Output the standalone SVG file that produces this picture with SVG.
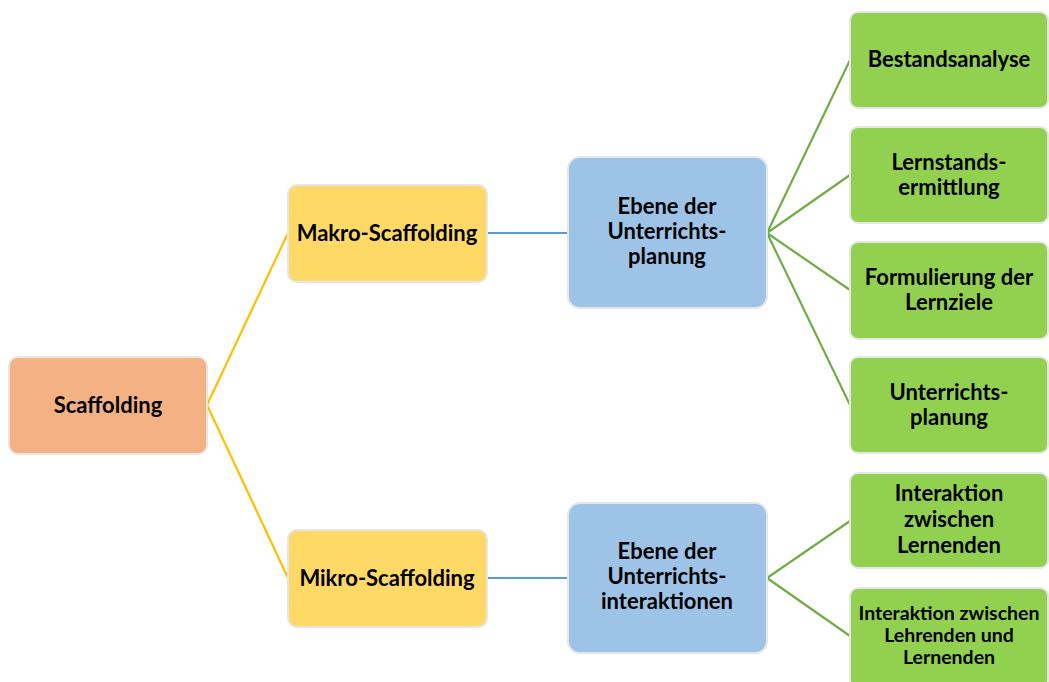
<svg xmlns="http://www.w3.org/2000/svg" width="1049" height="682" viewBox="0 0 1049 682">
<style>
.n{stroke:#e6e6e6;stroke-width:2}
.o{fill:#F4B183}.y{fill:#FFD966}.b{fill:#9DC3E6}.g{fill:#92D050}
text{font-family:Lato,"Open Sans","Liberation Sans",sans-serif;font-weight:bold;font-size:22px;fill:#000;text-anchor:middle}
.s{font-size:19.5px}
.cy{stroke:#FFC000;stroke-width:2.2;fill:none}
.cb{stroke:#5B9BD5;stroke-width:2.2;fill:none}
.cg{stroke:#70AD47;stroke-width:2.2;fill:none}
</style>
<rect width="1049" height="682" fill="#fff"/>
<g id="connectors">
<polyline class="cy" points="288,233 207,405 288,578"/>
<line class="cb" x1="487" y1="233" x2="568" y2="233"/>
<line class="cb" x1="487" y1="578" x2="568" y2="578"/>
<path class="cg" d="M767,233 L850,60 M767,233 L850,175 M767,233 L850,290 M767,233 L850,405"/>
<path class="cg" d="M767,578 L850,521 M767,578 L850,636"/>
</g>
<g id="scaffolding"><rect class="n o" x="9" y="357" width="198" height="97" rx="9"/><text x="108" y="413">Scaffolding</text></g>
<g id="makro"><rect class="n y" x="288" y="185" width="199" height="97" rx="9"/><text x="387" y="241">Makro-Scaffolding</text></g>
<g id="mikro"><rect class="n y" x="288" y="530" width="199" height="97" rx="9"/><text x="387" y="586">Mikro-Scaffolding</text></g>
<g id="ebene-planung"><rect class="n b" x="568" y="157" width="199" height="151" rx="12"/><text x="667" y="214">Ebene der</text><text x="667" y="239">Unterrichts-</text><text x="667" y="264">planung</text></g>
<g id="ebene-interaktionen"><rect class="n b" x="568" y="503" width="199" height="150" rx="12"/><text x="667" y="559">Ebene der</text><text x="667" y="584">Unterrichts-</text><text x="667" y="609">interaktionen</text></g>
<g id="bestandsanalyse"><rect class="n g" x="850" y="12" width="198" height="96" rx="8"/><text x="949" y="67">Bestandsanalyse</text></g>
<g id="lernstand"><rect class="n g" x="850" y="127" width="198" height="96" rx="8"/><text x="949" y="170">Lernstands-</text><text x="949" y="195">ermittlung</text></g>
<g id="lernziele"><rect class="n g" x="850" y="242" width="198" height="97" rx="8"/><text x="949" y="285">Formulierung der</text><text x="949" y="310">Lernziele</text></g>
<g id="unterrichtsplanung"><rect class="n g" x="850" y="357" width="198" height="96" rx="8"/><text x="949" y="400">Unterrichts-</text><text x="949" y="425">planung</text></g>
<g id="interaktion-lernende"><rect class="n g" x="850" y="473" width="198" height="95" rx="8"/><text x="949" y="501">Interaktion</text><text x="949" y="527">zwischen</text><text x="949" y="553">Lernenden</text></g>
<g id="interaktion-lehrende"><rect class="n g" x="850" y="588" width="198" height="100" rx="8"/><text class="s" x="949" y="620">Interaktion zwischen</text><text class="s" x="949" y="642">Lehrenden und</text><text class="s" x="949" y="664">Lernenden</text></g>
</svg>
